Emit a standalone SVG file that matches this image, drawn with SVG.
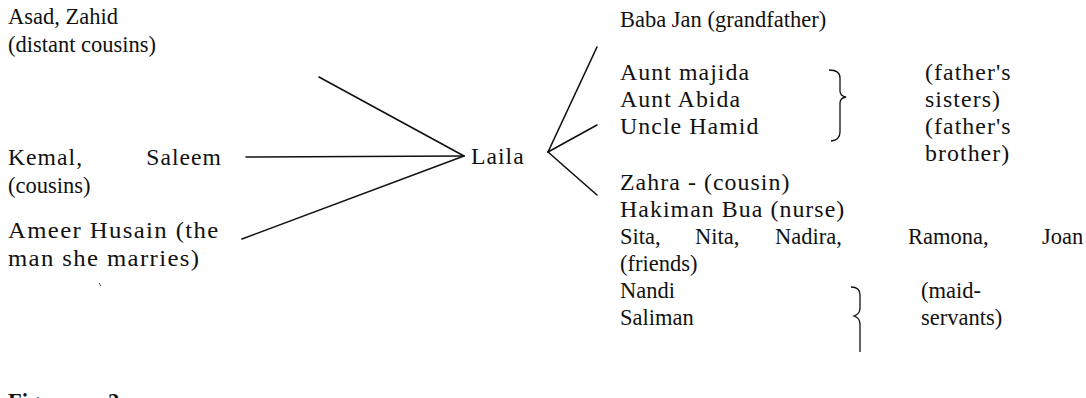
<svg xmlns="http://www.w3.org/2000/svg" width="1086" height="398" viewBox="0 0 1086 398">
<style>
text{font-family:"Liberation Serif","Times New Roman",serif;font-size:22.5px;fill:#111}
.w{letter-spacing:1px}
.ww{letter-spacing:1.25px}
.cap{font-weight:bold}
.ln{stroke:#111;stroke-width:1.6;fill:none;stroke-linecap:round}
.br{stroke:#111;stroke-width:1.3;fill:none}
</style>
<rect width="1086" height="398" fill="#fff"/>
<g id="connectors">
<line class="ln" x1="319" y1="77" x2="464" y2="156"/>
<line class="ln" x1="246" y1="157" x2="464" y2="156"/>
<line class="ln" x1="242" y1="239" x2="464" y2="156"/>
<line class="ln" x1="597" y1="47" x2="548" y2="152"/>
<line class="ln" x1="597" y1="125" x2="548" y2="152"/>
<line class="ln" x1="597" y1="195" x2="548" y2="152"/>
</g>
<g id="n-asad"><text x="8" y="24">Asad, Zahid</text><text x="8" y="52">(distant cousins)</text></g>
<g id="n-kemal">
<text class="w" transform="translate(8,165) scale(1.05,1)">Kemal,</text>
<text class="w" transform="translate(222,165) scale(1.05,1)" text-anchor="end">Saleem</text>
<text x="8" y="193">(cousins)</text>
</g>
<g id="n-ameer">
<text class="ww" transform="translate(8,238) scale(1.1,1)">Ameer Husain (the</text>
<text class="ww" transform="translate(8,266) scale(1.1,1)">man she marries)</text>
</g>
<g id="n-laila"><text class="w" transform="translate(471,164) scale(1.05,1)">Laila</text></g>
<g id="n-babajan"><text x="620" y="27">Baba Jan (grandfather)</text></g>
<g id="n-aunts">
<text class="w" transform="translate(620,80) scale(1.06,1)">Aunt majida</text>
<text class="w" transform="translate(620,107) scale(1.06,1)">Aunt Abida</text>
<path class="br" d="M829 70 Q840 70 840 78 L840 91 Q840 96 846 97 Q840 98 840 103 L840 132 Q840 140 831 141"/>
<text class="w" transform="translate(925,80) scale(1.06,1)">(father's</text>
<text class="w" transform="translate(925,107) scale(1.06,1)">sisters)</text>
</g>
<g id="n-uncle">
<text class="w" transform="translate(620,134) scale(1.06,1)">Uncle Hamid</text>
<text class="w" transform="translate(925,134) scale(1.06,1)">(father's</text>
<text class="w" transform="translate(925,161) scale(1.06,1)">brother)</text>
</g>
<g id="n-zahra"><text class="w" transform="translate(620,190) scale(1.06,1)">Zahra - (cousin)</text></g>
<g id="n-hakiman"><text class="w" transform="translate(620,217) scale(1.06,1)">Hakiman Bua (nurse)</text></g>
<g id="n-friends">
<text y="244"><tspan x="620">Sita,</tspan><tspan x="695">Nita,</tspan><tspan x="775">Nadira,</tspan><tspan x="908">Ramona,</tspan><tspan x="1042">Joan</tspan></text>
<text x="620" y="271">(friends)</text>
</g>
<g id="n-maids">
<text x="620" y="298">Nandi</text>
<text x="620" y="325">Saliman</text>
<path class="br" d="M851 287 Q860 287 860 295 L860 308 Q860 314 854 316 Q860 318 860 324 L860 352"/>
<text x="921" y="298">(maid-</text>
<text x="921" y="325">servants)</text>
</g>
<g id="caption"><text class="cap" x="8" y="409">Figure</text><text class="cap" x="108" y="409">2</text></g>
<path d="M99 283 l2 3" stroke="#555" stroke-width="1"/>
</svg>
